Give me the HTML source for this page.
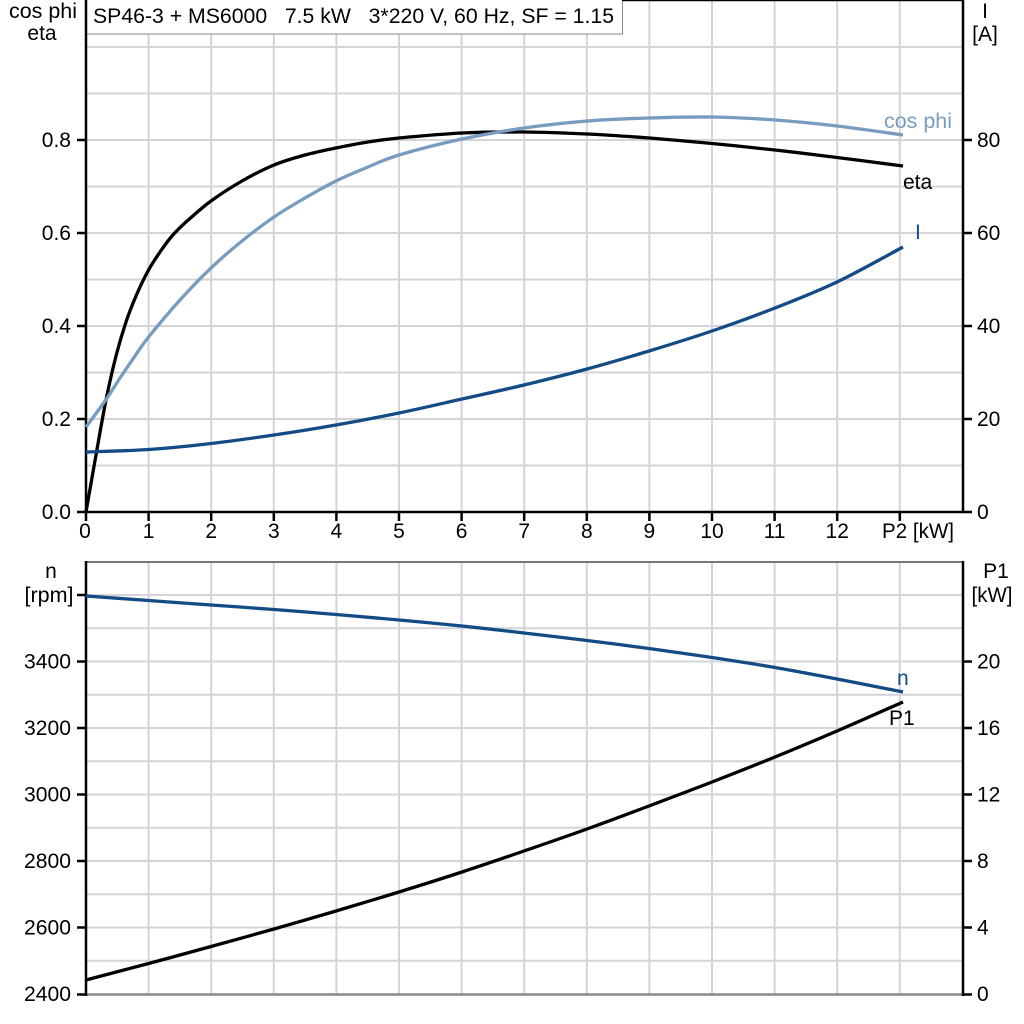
<!DOCTYPE html>
<html><head><meta charset="utf-8"><style>
html,body{margin:0;padding:0;background:#fff;}
svg{display:block;}
text{font-family:"Liberation Sans",Arial,sans-serif;font-size:21px;fill:#000;}
</style></head><body>
<svg width="1024" height="1024" viewBox="0 0 1024 1024" xmlns="http://www.w3.org/2000/svg">
<rect width="1024" height="1024" fill="#fff"/>
<g stroke="#d2d4d8" stroke-width="2" fill="none">
<path d="M148.6 0V512M211.2 0V512M273.8 0V512M336.4 0V512M399 0V512M461.6 0V512M524.2 0V512M586.8 0V512M649.4 0V512M712 0V512M774.6 0V512M837.2 0V512M899.8 0V512"/>
<path d="M86 465.5H963M86 419H963M86 372.5H963M86 326H963M86 279.5H963M86 233H963M86 186.5H963M86 140H963M86 93.5H963M86 47H963"/>
<path d="M148.6 562V994M211.2 562V994M273.8 562V994M336.4 562V994M399 562V994M461.6 562V994M524.2 562V994M586.8 562V994M649.4 562V994M712 562V994M774.6 562V994M837.2 562V994M899.8 562V994"/>
<path d="M86 960.75H963M86 927.5H963M86 894.25H963M86 861H963M86 827.75H963M86 794.5H963M86 761.25H963M86 728H963M86 694.75H963M86 661.5H963M86 628.25H963M86 595H963"/>
</g>
<rect x="86.5" y="-1" width="536" height="35" fill="#fff" stroke="#8a8a8a" stroke-width="1"/>
<text x="93" y="23" textLength="521" lengthAdjust="spacingAndGlyphs" style="white-space:pre" xml:space="preserve">SP46-3 + MS6000   7.5 kW   3*220 V, 60 Hz, SF = 1.15</text>
<line x1="622" y1="0.5" x2="964" y2="0.5" stroke="#000" stroke-width="1.5"/>
<g stroke="#000" stroke-width="2.5" fill="none">
<path d="M86 0V513"/>
<path d="M963 0V513"/>
<path d="M85 512H964"/>
<path d="M77 512H86M77 419H86M77 326H86M77 233H86M77 140H86"/>
<path d="M963 512H972M963 419H972M963 326H972M963 233H972M963 140H972"/>
<path d="M86 512V521M148.6 512V521M211.2 512V521M273.8 512V521M336.4 512V521M399 512V521M461.6 512V521M524.2 512V521M586.8 512V521M649.4 512V521M712 512V521M774.6 512V521M837.2 512V521M899.8 512V521"/>
</g>
<line x1="86" y1="562" x2="963" y2="562" stroke="#777" stroke-width="2"/>
<line x1="86" y1="994.5" x2="963" y2="994.5" stroke="#888" stroke-width="2.5"/>
<g stroke="#000" stroke-width="2.5" fill="none">
<path d="M86 561V996"/>
<path d="M963 561V996"/>
<path d="M77 595H86M77 661.5H86M77 728H86M77 794.5H86M77 861H86M77 927.5H86M77 994.5H86"/>
<path d="M963 661.5H972M963 728H972M963 794.5H972M963 861H972M963 927.5H972M963 994.5H972"/>
</g>
<g text-anchor="end">
<text x="71" y="519">0.0</text>
<text x="71" y="426">0.2</text>
<text x="71" y="333">0.4</text>
<text x="71" y="240">0.6</text>
<text x="71" y="147">0.8</text>
</g>
<g text-anchor="start">
<text x="977" y="519">0</text>
<text x="977" y="426">20</text>
<text x="977" y="333">40</text>
<text x="977" y="240">60</text>
<text x="977" y="147">80</text>
</g>
<g text-anchor="middle">
<text x="43" y="18" textLength="68" lengthAdjust="spacingAndGlyphs">cos phi</text>
<text x="42" y="40">eta</text>
<text x="985" y="18">I</text>
<text x="985" y="41">[A]</text>
<text x="85" y="538">0</text>
<text x="148.6" y="538">1</text>
<text x="211.2" y="538">2</text>
<text x="273.8" y="538">3</text>
<text x="336.4" y="538">4</text>
<text x="399" y="538">5</text>
<text x="461.6" y="538">6</text>
<text x="524.2" y="538">7</text>
<text x="586.8" y="538">8</text>
<text x="649.4" y="538">9</text>
<text x="712" y="538">10</text>
<text x="774.6" y="538">11</text>
<text x="837.2" y="538">12</text>
</g>
<text x="882" y="538" textLength="72" lengthAdjust="spacingAndGlyphs">P2 [kW]</text>
<g text-anchor="end">
<text x="71" y="1001" textLength="47" lengthAdjust="spacingAndGlyphs">2400</text>
<text x="71" y="934.5" textLength="47" lengthAdjust="spacingAndGlyphs">2600</text>
<text x="71" y="868" textLength="47" lengthAdjust="spacingAndGlyphs">2800</text>
<text x="71" y="801.5" textLength="47" lengthAdjust="spacingAndGlyphs">3000</text>
<text x="71" y="735" textLength="47" lengthAdjust="spacingAndGlyphs">3200</text>
<text x="71" y="668.5" textLength="47" lengthAdjust="spacingAndGlyphs">3400</text>
</g>
<g text-anchor="start">
<text x="977" y="1001">0</text>
<text x="977" y="934.5">4</text>
<text x="977" y="868">8</text>
<text x="977" y="801.5">12</text>
<text x="977" y="735">16</text>
<text x="977" y="668.5">20</text>
</g>
<g text-anchor="middle">
<text x="51" y="578">n</text>
<text x="49" y="602" textLength="49" lengthAdjust="spacingAndGlyphs">[rpm]</text>
<text x="996" y="578">P1</text>
<text x="992" y="602" textLength="41" lengthAdjust="spacingAndGlyphs">[kW]</text>
</g>
<g fill="none" stroke-width="3.3" stroke-linejoin="round" stroke-linecap="butt">
<polyline class="sm" stroke="#000" points="86,512 96,455 106,400 116,356 126,322 136,296 148,271 160,252 172,236 186,222 211,201 242,181 274,165 305,155 336,148 368,142 399,138 462,133 524,132 587,134 649,138 712,143.5 775,150 837,157.5 903,166"/>
<polyline class="sm" stroke="#779cc0" points="86,427 105,401 120,378 135,356 148.6,337 180,300 211,268 242,241 274,217 305,198 336,181 368,167 399,155 462,139 524,128 587,121 649,118 712,117 775,120 837,126 903,135"/>
<polyline class="sm" stroke="#134c84" points="86,452 148.6,449.5 211,443.5 274,435 336,425 399,413 462,399 524,385 587,369 649,351 712,331 775,308 837,282 903,247"/>
</g>
<g fill="none" stroke-width="3.3" stroke-linejoin="round">
<polyline class="sm" stroke="#134c84" points="86,596 148.6,600.5 211,605 274,609.5 336,614.5 399,620 462,626 524,633 587,640.5 649,648.5 712,657.5 775,667.5 837,679 903,692"/>
<polyline class="sm" stroke="#000" points="86,980 148.6,963.5 211,946.5 274,929 336,911 399,892 462,872 524,851 587,829 649,806 712,782 775,757 837,731 903,702"/>
</g>
<text x="884" y="128" style="fill:#779cc0" textLength="68" lengthAdjust="spacingAndGlyphs">cos phi</text>
<text x="903" y="189">eta</text>
<text x="915" y="239" style="fill:#134c84">I</text>
<text x="897" y="685" style="fill:#134c84">n</text>
<text x="889" y="725">P1</text>
</svg>
<script>
(function(){
var NS="http://www.w3.org/2000/svg";
var pls=document.querySelectorAll("polyline.sm");
for(var i=0;i<pls.length;i++){
 var pl=pls[i];
 var pts=pl.getAttribute("points").trim().split(/\s+/).map(function(s){var a=s.split(",");return [parseFloat(a[0]),parseFloat(a[1])];});
 var d="M"+pts[0][0]+" "+pts[0][1];
 for(var k=0;k<pts.length-1;k++){
  var p0=pts[k>0?k-1:0],p1=pts[k],p2=pts[k+1],p3=pts[k+2<pts.length?k+2:pts.length-1];
  var c1x=p1[0]+(p2[0]-p0[0])/6,c1y=p1[1]+(p2[1]-p0[1])/6;
  var c2x=p2[0]-(p3[0]-p1[0])/6,c2y=p2[1]-(p3[1]-p1[1])/6;
  d+=" C"+c1x.toFixed(2)+" "+c1y.toFixed(2)+" "+c2x.toFixed(2)+" "+c2y.toFixed(2)+" "+p2[0]+" "+p2[1];
 }
 var path=document.createElementNS(NS,"path");
 path.setAttribute("d",d);
 path.setAttribute("stroke",pl.getAttribute("stroke"));
 pl.parentNode.replaceChild(path,pl);
}
})();
</script>
</body></html>
